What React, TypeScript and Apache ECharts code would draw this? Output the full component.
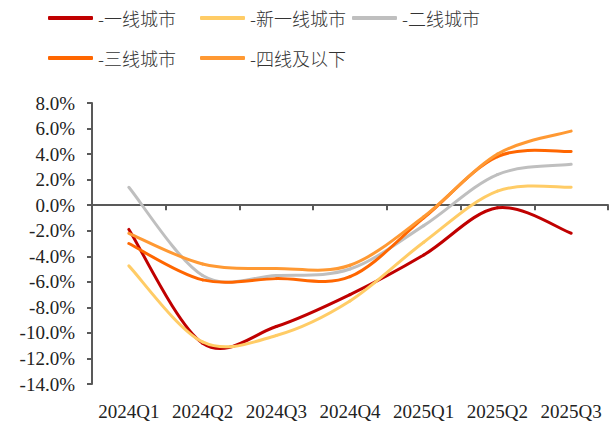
import React, { useEffect, useRef } from "react";
import * as echarts from "echarts";

// Quarterly house-price change by city tier, in percent
const quarters = ["2024Q1", "2024Q2", "2024Q3", "2024Q4", "2025Q1", "2025Q2", "2025Q3"];
const tier1 = [-1.9, -10.8, -9.5, -7.0, -3.9, -0.2, -2.2];
const newTier1 = [-4.75, -10.7, -10.2, -7.5, -2.9, 1.1, 1.4];
const tier2 = [1.4, -5.5, -5.5, -5.0, -1.6, 2.4, 3.2];
const tier3 = [-3.0, -5.85, -5.75, -5.6, -1.0, 3.8, 4.2];
const tier4 = [-2.2, -4.6, -4.95, -4.7, -0.9, 4.0, 5.8];

const seriesNames = ["-一线城市", "-新一线城市", "-二线城市", "-三线城市", "-四线及以下"];
const seriesData = [tier1, newTier1, tier2, tier3, tier4];
const seriesColors = ["#C00000", "#FFCC66", "#BFBFBF", "#FF6600", "#FF9933"];

const yMin = -14;
const yMax = 8;
const yStep = 2;

// legend slots: [left, top]
const legendSlots: [number, number][] = [
  [48, 9],
  [200, 9],
  [352, 9],
  [48, 49],
  [200, 49],
];

// Smoothed line drawn segment by segment (cardinal spline, tension 1/6),
// each point placed through the grid's own axes via api.coord.
function smoothSegment(values: number[], color: string) {
  return (params: any, api: any) => {
    const i = params.dataIndex;
    const n = values.length;
    if (i >= n - 1) return null;
    const pt = (j: number) => {
      const k = Math.max(0, Math.min(n - 1, j));
      return api.coord([k, values[k]]);
    };
    const p0 = pt(i - 1);
    const p1 = pt(i);
    const p2 = pt(i + 1);
    const p3 = pt(i + 2);
    return {
      type: "bezierCurve",
      shape: {
        x1: p1[0],
        y1: p1[1],
        x2: p2[0],
        y2: p2[1],
        cpx1: p1[0] + (p2[0] - p0[0]) / 6,
        cpy1: p1[1] + (p2[1] - p0[1]) / 6,
        cpx2: p2[0] - (p3[0] - p1[0]) / 6,
        cpy2: p2[1] - (p3[1] - p1[1]) / 6,
      },
      style: { stroke: color, lineWidth: 3, fill: "none", lineCap: "round" },
      silent: true,
    };
  };
}

export default function App() {
  const ref = useRef<HTMLDivElement>(null);

  useEffect(() => {
    if (!ref.current) return;
    const chart = echarts.init(ref.current, undefined, { renderer: "svg" });
    const axisColor = "#595959";
    const labelFont = "'Liberation Serif', 'Times New Roman', serif";

    chart.setOption({
      animation: false,
      backgroundColor: "#ffffff",
      legend: seriesNames.map((name, i) => ({
        data: [name],
        left: legendSlots[i][0],
        top: legendSlots[i][1],
        padding: 0,
        icon: "roundRect",
        itemWidth: 45,
        itemHeight: 4,
        selectedMode: false,
        textStyle: {
          fontFamily: "'Noto Sans CJK SC', sans-serif",
          fontWeight: 300,
          fontSize: 18,
          color: "#333333",
        },
      })),
      grid: { left: 92, right: 7, top: 103, bottom: 40, containLabel: false },
      xAxis: [
        {
          type: "category",
          data: quarters,
          boundaryGap: true,
          position: "bottom",
          axisLine: { show: false, onZero: false },
          axisTick: { show: false },
          splitLine: { show: false },
          axisLabel: {
            margin: 18,
            fontSize: 19,
            fontFamily: labelFont,
            color: "#222222",
            interval: 0,
          },
        },
        {
          type: "category",
          data: quarters,
          boundaryGap: true,
          position: "bottom",
          axisLine: { show: true, onZero: true, lineStyle: { color: axisColor, width: 2 } },
          axisTick: { show: true, length: 5, inside: false, lineStyle: { color: axisColor, width: 2 } },
          axisLabel: { show: false },
          splitLine: { show: false },
        },
      ],
      yAxis: {
        type: "value",
        min: yMin,
        max: yMax,
        interval: yStep,
        axisLine: { show: true, onZero: false, lineStyle: { color: axisColor, width: 2 } },
        axisTick: { show: true, length: 5, inside: false, lineStyle: { color: axisColor, width: 2 } },
        splitLine: { show: false },
        axisLabel: {
          margin: 17,
          fontSize: 19,
          fontFamily: labelFont,
          color: "#222222",
          formatter: (v: number) => v.toFixed(1) + "%",
        },
      },
      series: seriesNames.map((name, i) => ({
        name,
        type: "custom",
        xAxisIndex: 0,
        yAxisIndex: 0,
        coordinateSystem: "cartesian2d",
        encode: { x: 0, y: 1 },
        data: seriesData[i].map((v, j) => [j, v]),
        itemStyle: { color: seriesColors[i] },
        renderItem: smoothSegment(seriesData[i], seriesColors[i]),
        clip: false,
      })),
    });

    return () => chart.dispose();
  }, []);

  return (
    <div
      ref={ref}
      style={{ position: "fixed", left: 0, top: 0, width: 615, height: 424 }}
    />
  );
}
